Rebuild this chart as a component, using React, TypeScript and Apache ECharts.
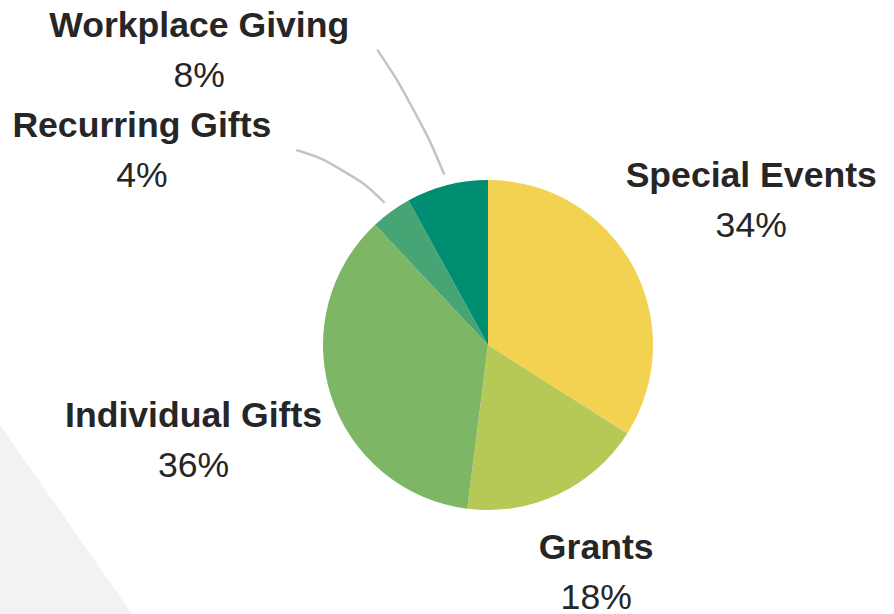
import React, { useEffect, useRef } from "react";
import * as echarts from "echarts";

const categories = ["Special Events", "Grants", "Individual Gifts", "Recurring Gifts", "Workplace Giving"];
const shares = [34, 18, 36, 4, 8];
const colors = ["#F3D151", "#B6C957", "#7DB664", "#47A474", "#008E73"];
// label-line geometry per slice: length, length2, gap to text, line visible, bow of the curve
const lineLen = [137, 86, 142, 76, 140];
const lineLen2 = [-132, -61, -131, 50, 35];
const lineGap = [5, 5, 5, 25, 28];
const lineShown = [false, false, false, true, true];
const lineBow = [0, 0, 0, 12, 7];
const lineStartGap = 11;

export default function App() {
  const ref = useRef<HTMLDivElement>(null);
  useEffect(() => {
    const chart = echarts.init(ref.current!, null, { renderer: "svg" });
    const data = categories.map((name, i) => ({
      name,
      value: shares[i],
      itemStyle: { color: colors[i] },
      label: { distanceToLabelLine: lineGap[i] },
      labelLine: { show: lineShown[i], length: lineLen[i], length2: lineLen2[i] },
    }));
    const cx = 488;
    const cy = 345;
    chart.setOption({
      animation: false,
      backgroundColor: "#ffffff",
      graphic: [
        {
          type: "polygon",
          shape: { points: [[0, 425], [132, 614], [0, 614]] },
          style: { fill: "#f2f2f2" },
          z: -1,
        },
      ],
      series: [
        {
          type: "pie",
          center: [cx, cy],
          radius: 165,
          startAngle: 90,
          clockwise: true,
          avoidLabelOverlap: false,
          data,
          itemStyle: { borderWidth: 0 },
          labelLayout: (params: any) => {
            const i = params.dataIndex;
            const pts = params.labelLinePoints;
            if (!lineShown[i] || !pts || pts.length < 3) return {};
            const [p1, p2, p3] = pts;
            const rx = p2[0] - p1[0];
            const ry = p2[1] - p1[1];
            const rl = Math.hypot(rx, ry) || 1;
            const s = [p1[0] + (rx / rl) * lineStartGap, p1[1] + (ry / rl) * lineStartGap];
            const mx = (s[0] + p3[0]) / 2;
            const my = (s[1] + p3[1]) / 2;
            const chx = p3[0] - s[0];
            const chy = p3[1] - s[1];
            const cl = Math.hypot(chx, chy) || 1;
            let nx = -chy / cl;
            let ny = chx / cl;
            if (nx * (cx - mx) + ny * (cy - my) > 0) {
              nx = -nx;
              ny = -ny;
            }
            const m = [mx + nx * lineBow[i], my + ny * lineBow[i]];
            return { labelLinePoints: [s, m, [p3[0], p3[1]]] };
          },
          label: {
            show: true,
            position: "outside",
            formatter: (p: any) => `{n|${p.name}}\n{v|${p.value}%}`,
            rich: {
              n: {
                fontFamily: "Liberation Sans, Arial, sans-serif",
                fontWeight: "bold",
                fontSize: 35.6,
                lineHeight: 50,
                color: "#262626",
                align: "center",
              },
              v: {
                fontFamily: "Liberation Sans, Arial, sans-serif",
                fontSize: 35.6,
                lineHeight: 50,
                color: "#262626",
                align: "center",
              },
            },
          },
          labelLine: {
            smooth: 0.5,
            lineStyle: { color: "#c4c4c4", width: 2.5 },
          },
          emphasis: { disabled: true },
        },
      ],
    });
    return () => chart.dispose();
  }, []);
  return (
    <div
      ref={ref}
      style={{ position: "absolute", left: 0, top: 0, width: 894, height: 614 }}
    />
  );
}
